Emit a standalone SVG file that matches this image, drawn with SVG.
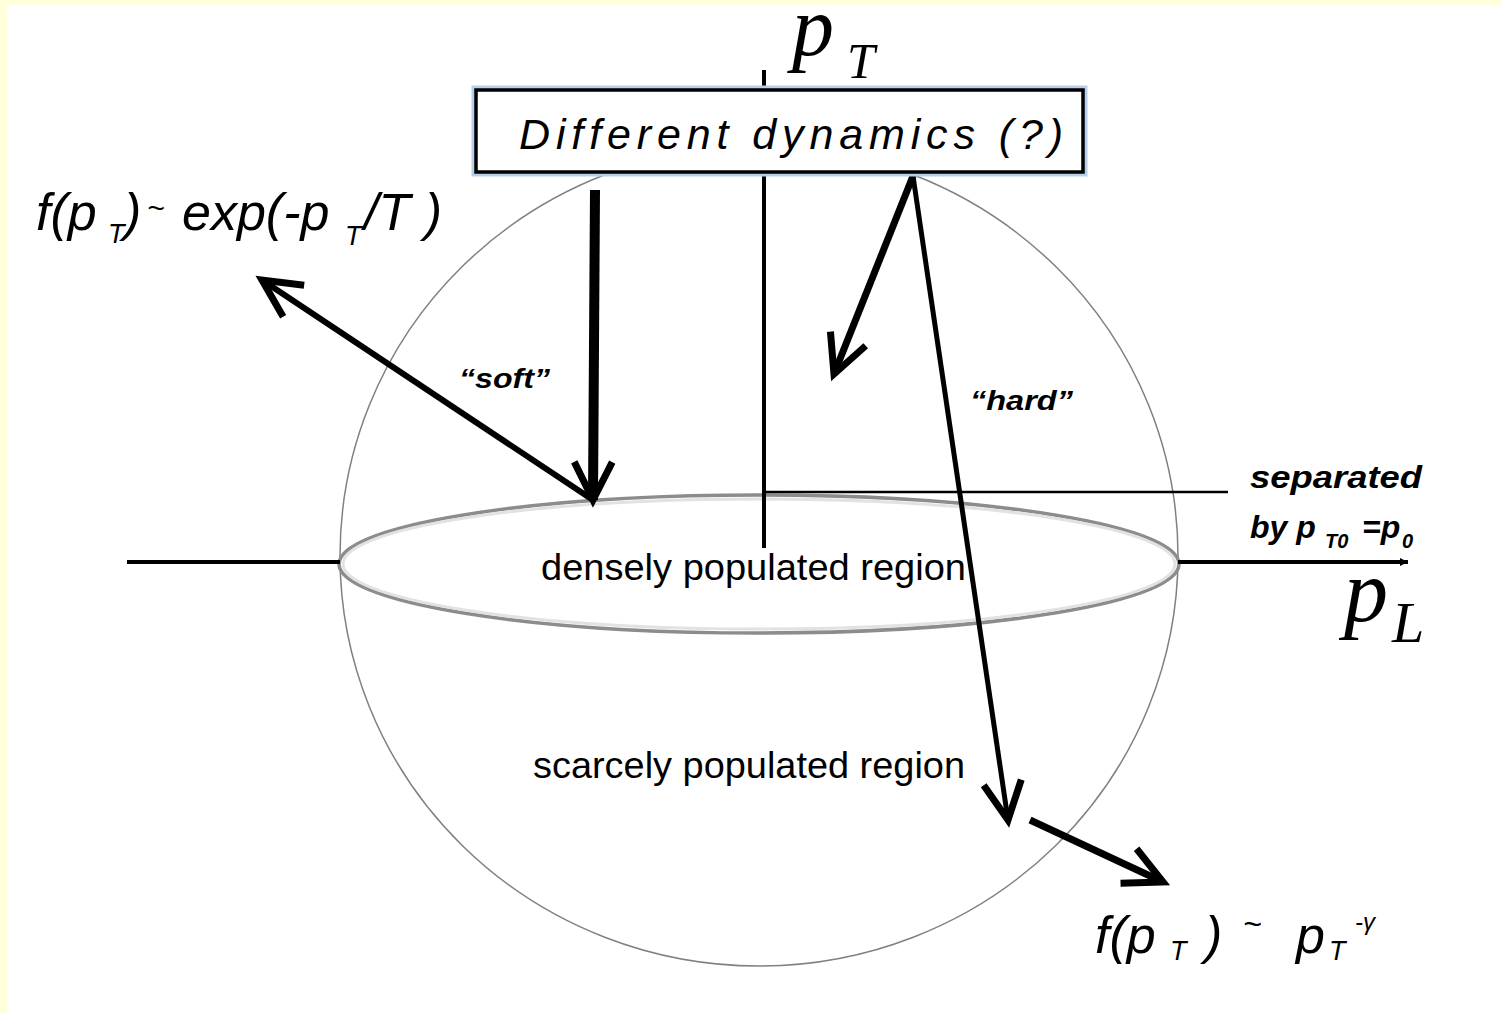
<svg xmlns="http://www.w3.org/2000/svg" width="1501" height="1013" viewBox="0 0 1501 1013">
<style>
.it{font-family:"Liberation Sans","Open Sans",sans-serif;font-style:italic;fill:#000}
.bi{font-family:"Liberation Sans","Open Sans",sans-serif;font-style:italic;font-weight:bold;fill:#000}
.rg{font-family:"Liberation Sans","Open Sans",sans-serif;fill:#000}
.sr{font-family:"Liberation Serif","DejaVu Serif",serif;font-style:italic;fill:#000}
.ar{fill:none;stroke:#000;stroke-linecap:butt}
</style>
<defs>
<marker id="head" markerUnits="userSpaceOnUse" viewBox="-50 -30 60 60" refX="0" refY="0" markerWidth="60" markerHeight="60" orient="auto" overflow="visible">
<path d="M-38,-19 L0,0 L-38,19" fill="none" stroke="#000" stroke-width="7" stroke-linejoin="miter"/>
</marker>
<marker id="small" markerUnits="userSpaceOnUse" viewBox="-10 -6 12 12" refX="0" refY="0" markerWidth="12" markerHeight="12" orient="auto" overflow="visible">
<path d="M-8,-4 L0,0 L-8,4 Z" fill="#000"/>
</marker>
</defs>
<rect x="0" y="0" width="1501" height="1013" fill="#ffffdc"/>
<rect x="7" y="5" width="1494" height="1008" fill="#fff"/>

<g id="sphere">
<ellipse cx="759" cy="556" rx="419" ry="410" fill="none" stroke="#808080" stroke-width="1.5"/>
</g>
<g id="dense-region">
<ellipse cx="759" cy="564" rx="420" ry="69" fill="#fff" stroke="#8c8c8c" stroke-width="3.5"/>
<ellipse cx="759" cy="564" rx="416" ry="65" fill="none" stroke="#e2e2e2" stroke-width="3"/>
<text class="rg" x="541" y="580" font-size="37" textLength="425" lengthAdjust="spacingAndGlyphs">densely populated region</text>
</g>
<g id="sparse-region">
<text class="rg" x="533" y="778" font-size="37" textLength="432" lengthAdjust="spacingAndGlyphs">scarcely populated region</text>
</g>

<g id="connectors">
<line x1="127" y1="562" x2="340" y2="562" stroke="#000" stroke-width="4"/>
<line x1="1178" y1="562" x2="1408" y2="562" stroke="#000" stroke-width="4" marker-end="url(#small)"/>
<line x1="764" y1="70" x2="764" y2="548" stroke="#000" stroke-width="4"/>
<line x1="765" y1="492" x2="1228" y2="492" stroke="#000" stroke-width="2.5"/>
<path class="ar" d="M595,190 L593,500" stroke-width="10" marker-end="url(#head)"/>
<path class="ar" d="M593,500 L262,280" stroke-width="6" marker-end="url(#head)"/>
<path class="ar" d="M913,176 L834,374" stroke-width="7" marker-end="url(#head)"/>
<path class="ar" d="M913,176 L1008,820" stroke-width="5" marker-end="url(#head)"/>
<path class="ar" d="M1030,820 L1163,882" stroke-width="7" marker-end="url(#head)"/>
</g>

<g id="box">
<rect x="476" y="90" width="607" height="82" fill="#fff" stroke="#b8cfea" stroke-width="9"/>
<rect x="476" y="90" width="607" height="82" fill="#fff" stroke="#000" stroke-width="3.5"/>
<text class="it" x="519" y="149" font-size="43" textLength="544" lengthAdjust="spacing">Different  dynamics  (?)</text>
</g>

<g id="pT-label">
<text class="sr" x="792" y="55" font-size="84">p<tspan x="847" y="78" font-size="50">T</tspan></text>
</g>
<g id="pL-label">
<text class="sr" x="1344" y="621" font-size="88">p<tspan x="1392" y="642" font-size="58">L</tspan></text>
</g>

<g id="soft-label">
<text class="bi" x="459" y="388" font-size="27" textLength="91" lengthAdjust="spacingAndGlyphs">“soft”</text>
</g>
<g id="hard-label">
<text class="bi" x="970" y="410" font-size="27" textLength="103" lengthAdjust="spacingAndGlyphs">“hard”</text>
</g>

<g id="exp-formula">
<text class="it" x="36" y="230" font-size="52">f(p<tspan x="108" y="243" font-size="27">T</tspan><tspan x="124" y="230">)</tspan><tspan x="147" y="218" font-size="30">~</tspan><tspan x="182" y="230">exp(-p</tspan><tspan x="345" y="245" font-size="27">T</tspan><tspan x="364" y="230">/T )</tspan></text>
</g>

<g id="power-formula">
<text class="it" x="1095" y="953" font-size="52">f(p<tspan x="1170" y="960" font-size="27">T</tspan><tspan x="1205" y="953">)</tspan><tspan x="1243" y="935" font-size="32">~</tspan><tspan x="1296" y="953">p</tspan><tspan x="1329" y="960" font-size="27">T</tspan><tspan x="1355" y="930" font-size="24">-γ</tspan></text>
</g>

<g id="separated-label">
<text class="bi" x="1250" y="488" font-size="32" textLength="172" lengthAdjust="spacingAndGlyphs">separated</text>
<text class="bi" x="1250" y="538" font-size="32">by p<tspan x="1325" y="548" font-size="20">T0</tspan><tspan x="1362" y="538">=p</tspan><tspan x="1402" y="548" font-size="20">0</tspan></text>
</g>
</svg>
